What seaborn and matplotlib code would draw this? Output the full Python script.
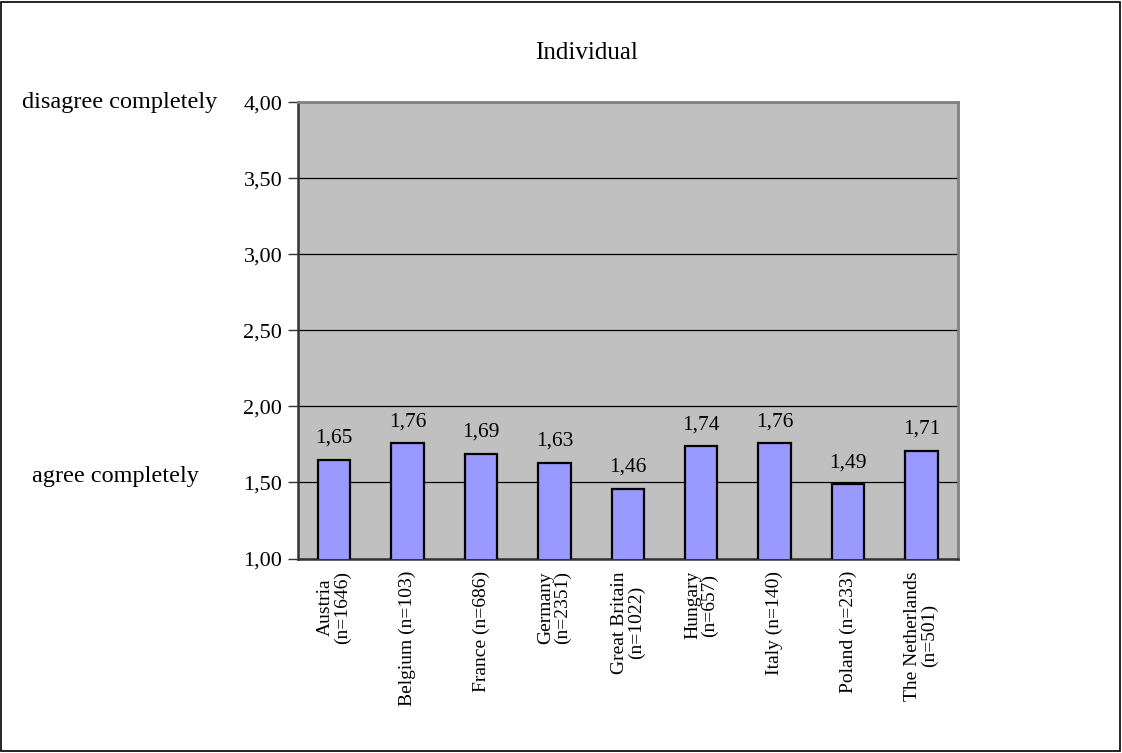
import matplotlib
matplotlib.use("Agg")
import matplotlib.pyplot as plt
import seaborn as sns
import pandas as pd
import numpy as np

# chart data
countries = ["Austria\n(n=1646)", "Belgium (n=103)", "France (n=686)", "Germany\n(n=2351)",
             "Great Britain\n(n=1022)", "Hungary\n(n=657)", "Italy (n=140)", "Poland (n=233)",
             "The Netherlands\n(n=501)"]
means = [1.65, 1.76, 1.69, 1.63, 1.46, 1.74, 1.76, 1.49, 1.71]
yticks = [1.0, 1.5, 2.0, 2.5, 3.0, 3.5, 4.0]

df = pd.DataFrame({"country": countries, "mean": means})

sns.set_style("white")
plt.rcParams["font.family"] = ["Liberation Serif", "DejaVu Serif"]
plt.rcParams["text.color"] = "black"
plt.rcParams["xtick.color"] = "black"
plt.rcParams["ytick.color"] = "black"

fig = plt.figure(figsize=(11.22, 7.53), dpi=100)
ax = fig.add_axes([0.2652, 0.2583, 0.5887, 0.6056])
ax.set_facecolor("#C0C0C0")

sns.barplot(data=df, x="country", y="mean", color="#9999FF", edgecolor="black",
            linewidth=1.6, width=0.44, saturation=1, ax=ax, zorder=3)

ax.set_ylim(1, 4)
ax.set_yticks(yticks)
ax.set_yticklabels([f"{v:.2f}".replace(".", ",") for v in yticks], fontsize=16)
ax.yaxis.grid(True, color="black", linewidth=0.9, zorder=0)
ax.set_axisbelow(True)
ax.set_xlim(-0.5, len(countries) - 0.5)

# value labels
for i, v in enumerate(means):
    ax.text(i, v + 0.11, f"{v:.2f}".replace(".", ","), ha="center", va="baseline", fontsize=15.5)

# x ticks at category boundaries, labels at centres
ax.set_xticks(np.arange(len(countries)))
ax.set_xticklabels(countries, rotation=90, fontsize=14, linespacing=1.0)
ax.tick_params(axis="x", length=0, pad=9)
ax.set_xticks(np.arange(-0.5, len(countries)), minor=True)
ax.tick_params(axis="x", which="minor", length=7, direction="out", width=1, color="#333333")
ax.tick_params(axis="y", length=7, direction="out", width=1, color="#333333", left=True, pad=4)
ax.set_xlabel("")
ax.set_ylabel("")

for s in ["left", "bottom"]:
    ax.spines[s].set_color("#333333")
    ax.spines[s].set_linewidth(1.8)
for s in ["top", "right"]:
    ax.spines[s].set_color("#808080")
    ax.spines[s].set_linewidth(2.0)

fig.text(0.5232, 0.929, "Individual", ha="center", va="center", fontsize=18)
fig.text(0.0196, 0.864, "disagree completely", ha="left", va="center", fontsize=17.5)
fig.text(0.0285, 0.367, "agree completely", ha="left", va="center", fontsize=17.5)

# outer frame
fig.patches.append(plt.Rectangle((0.001, 0.002), 0.997, 0.996, transform=fig.transFigure,
                                 fill=False, edgecolor="black", linewidth=1.2))

fig.savefig("out.png", dpi=100)
